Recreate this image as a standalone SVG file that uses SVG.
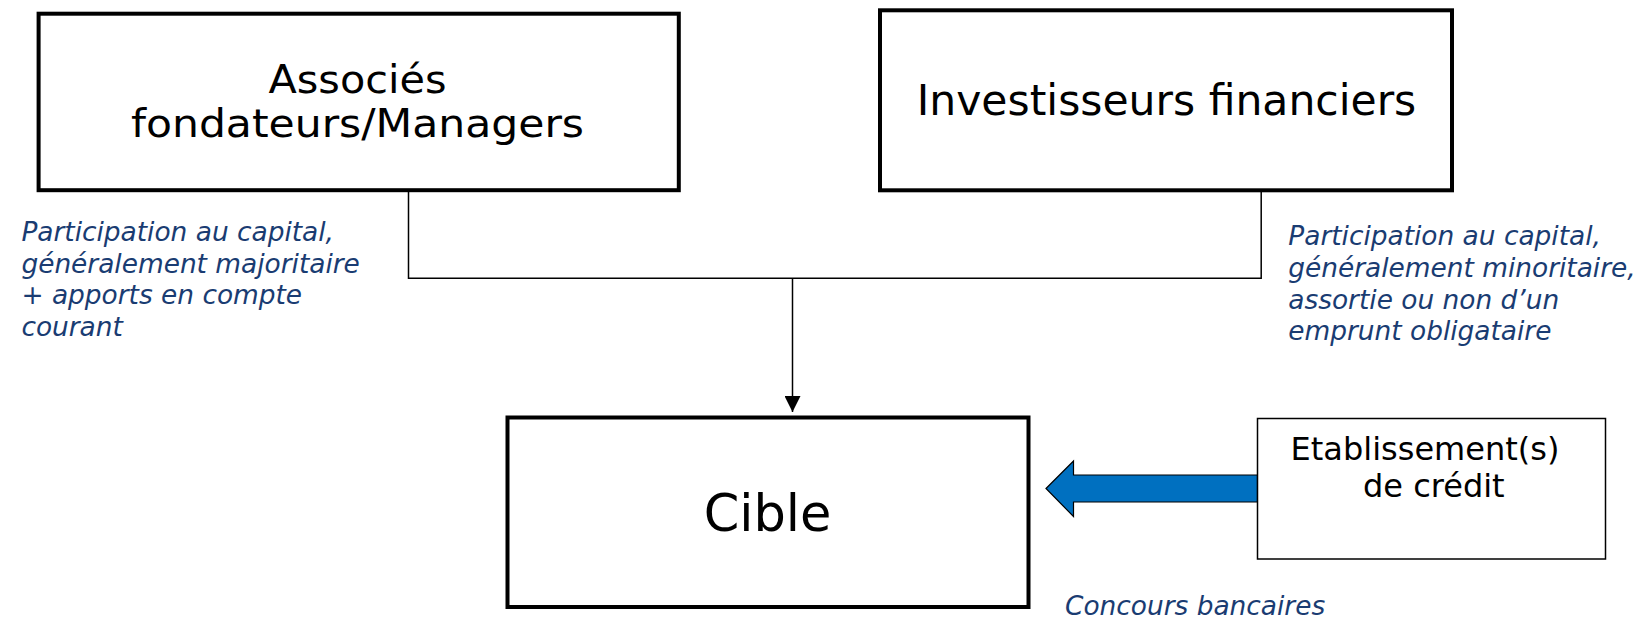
<svg xmlns="http://www.w3.org/2000/svg" width="1651" height="621" viewBox="0 0 1651 621">
<style>
.box{fill:#fff;stroke:#000;stroke-width:4}
.thin{fill:#fff;stroke:#000;stroke-width:1.5}
.big{font-family:"DejaVu Sans",Verdana,sans-serif;font-size:42.5px;fill:#000;text-anchor:middle}
.mid{font-family:"DejaVu Sans",Verdana,sans-serif;font-size:32px;fill:#000}
.note{font-family:"DejaVu Sans",Verdana,sans-serif;font-size:26.4px;font-style:italic;fill:#1A3C72}
.conn{fill:none;stroke:#000;stroke-width:1.5}
</style>
<defs>
<marker id="ah" markerWidth="16" markerHeight="16" refX="16" refY="8" orient="auto" markerUnits="userSpaceOnUse">
<path d="M0,0 L16,8 L0,16 Z" fill="#000"/>
</marker>
</defs>
<g id="connectors">
<path class="conn" d="M408.5,192 V278.3 H1261.2 V192"/>
<path class="conn" d="M792.5,278.3 V412" marker-end="url(#ah)"/>
<path d="M1046,488.5 L1073.5,461 L1073.5,475 L1257.5,475 L1257.5,502 L1073.5,502 L1073.5,516.5 Z" fill="#0070C0" stroke="#000" stroke-width="1.2"/>
</g>
<g id="associes">
<rect class="box" x="38.6" y="13.7" width="640.2" height="176.5"/>
<text class="big" x="357.5" y="93.3" style="font-size:39px" textLength="178" lengthAdjust="spacingAndGlyphs">Associés</text>
<text class="big" x="357.5" y="137.3" style="font-size:39px" textLength="453" lengthAdjust="spacingAndGlyphs">fondateurs/Managers</text>
</g>
<g id="investisseurs">
<rect class="box" x="880" y="10.3" width="572" height="180"/>
<text class="big" x="1166.5" y="115">Investisseurs financiers</text>
</g>
<g id="cible">
<rect class="box" x="507.5" y="417.5" width="521" height="189.5"/>
<text class="big" x="767.5" y="530.7" style="font-size:51px">Cible</text>
</g>
<g id="etablissement">
<rect class="thin" x="1257.5" y="418.5" width="348" height="140.5"/>
<text class="mid" x="1290.6" y="460">Etablissement(s)</text>
<text class="mid" x="1363" y="496.7">de crédit</text>
</g>
<g id="note-left">
<text class="note" x="21.4" y="240.7">Participation au capital,</text>
<text class="note" x="21.4" y="272.5">généralement majoritaire</text>
<text class="note" x="21.4" y="304">+ apports en compte</text>
<text class="note" x="21.4" y="335.5">courant</text>
</g>
<g id="note-right">
<text class="note" x="1288.3" y="245">Participation au capital,</text>
<text class="note" x="1288.3" y="277">généralement minoritaire,</text>
<text class="note" x="1288.3" y="308.5">assortie ou non d’un</text>
<text class="note" x="1288.3" y="340">emprunt obligataire</text>
</g>
<g id="note-bottom">
<text class="note" x="1065" y="614.5">Concours bancaires</text>
</g>
</svg>
